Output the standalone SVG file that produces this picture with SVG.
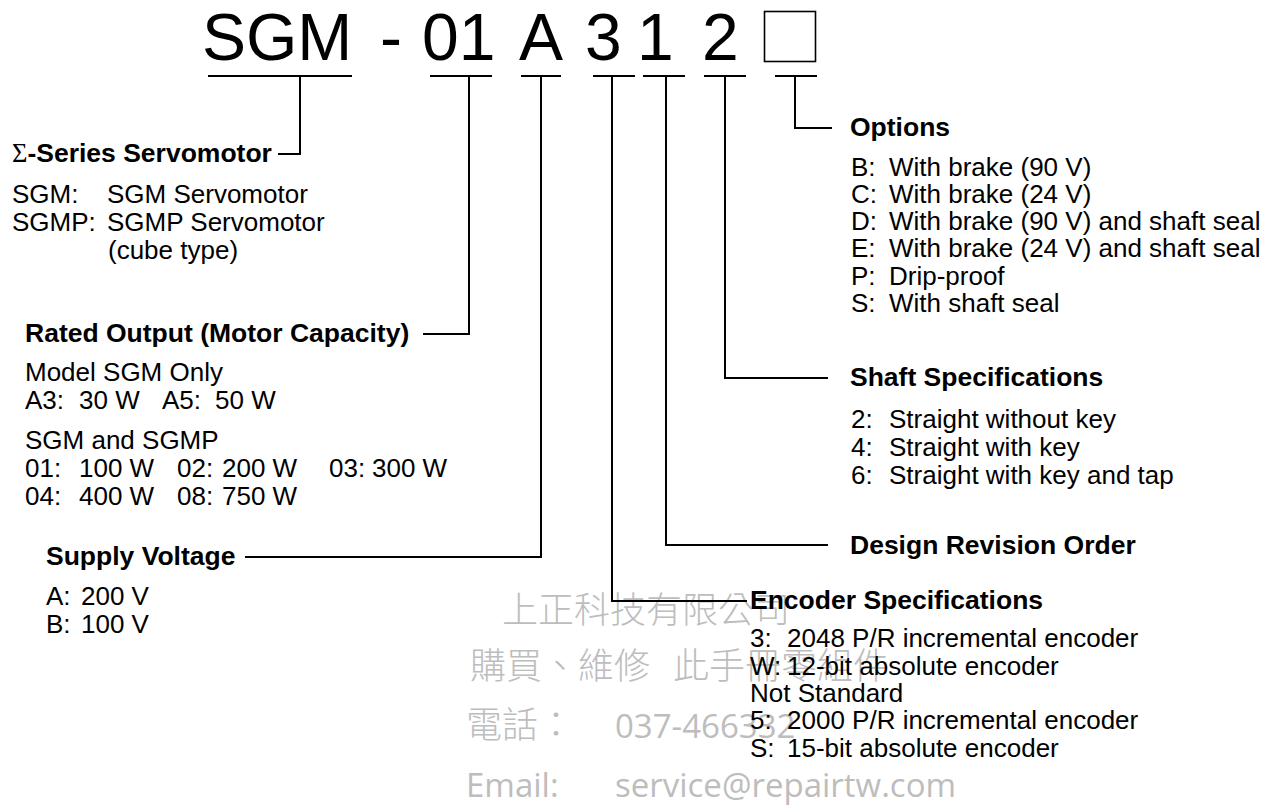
<svg xmlns="http://www.w3.org/2000/svg" width="1280" height="806" viewBox="0 0 1280 806">
<style>
.t{font-family:"Liberation Sans",Arial,Helvetica,sans-serif;font-size:26px;fill:#000}
.b{font-weight:bold;font-size:26.5px}
.title{font-family:"Liberation Sans",Arial,Helvetica,sans-serif;font-size:66px;fill:#000}
.sig{font-family:"Liberation Serif","Times New Roman",serif;font-weight:normal}
.wm{font-family:"Open Sans","Noto Sans CJK TC",sans-serif;font-size:33px;fill:#bdbdbd}
.wmc{font-family:"Noto Sans CJK TC","Noto Sans CJK SC",sans-serif;font-size:36px;font-weight:300;fill:#bdbdbd}
.ln{fill:none;stroke:#000;stroke-width:2}
</style>
<rect width="1280" height="806" fill="#fff"/>
<g id="watermark">
<text class="wmc" x="502" y="623">上正科技有限公司</text>
<text class="wmc" x="470" y="679">購買、維修<tspan x="673">此手冊零組件</tspan></text>
<text class="wmc" x="466" y="738">電話：</text>
<text class="wm" x="615" y="738">037-466332</text>
<text class="wm" x="466" y="797">Email:</text>
<text class="wm" x="615" y="797">service@repairtw.com</text>
</g>
<g id="title">
<text class="title" x="202" y="60">SGM</text>
<text class="title" x="380" y="60">-</text>
<text class="title" x="422" y="60">01</text>
<text class="title" x="519" y="60">A</text>
<text class="title" x="585" y="60">3</text>
<text class="title" x="637" y="60">1</text>
<text class="title" x="702" y="60">2</text>
<rect x="764.5" y="11.5" width="51" height="50" fill="none" stroke="#000" stroke-width="1.6"/>
</g>
<g id="connectors" class="ln">
<path class="ln" d="M208,76H352M300,76V154H278"/>
<path class="ln" d="M430,76H492M469,76V334H423"/>
<path class="ln" d="M521,76H561M541,76V557H245"/>
<path class="ln" d="M593,76H635M612,76V601H747"/>
<path class="ln" d="M643,76H685M666,76V545H828"/>
<path class="ln" d="M704,76H746M725,76V378H828"/>
<path class="ln" d="M775,76H817M795,76V128H832"/>
</g>
<g id="series">
<text class="t b" x="12" y="162"><tspan class="sig">Σ</tspan>-Series Servomotor</text>
<text class="t" x="12" y="203">SGM:<tspan x="107">SGM Servomotor</tspan></text>
<text class="t" x="12" y="231">SGMP:<tspan x="107">SGMP Servomotor</tspan></text>
<text class="t" x="108" y="259">(cube type)</text>
</g>
<g id="rated-output">
<text class="t b" x="25" y="342">Rated Output (Motor Capacity)</text>
<text class="t" x="25" y="381">Model SGM Only</text>
<text class="t" x="25" y="409">A3:<tspan x="79">30 W</tspan><tspan x="162">A5:</tspan><tspan x="215">50 W</tspan></text>
<text class="t" x="25" y="449">SGM and SGMP</text>
<text class="t" x="25" y="477">01:<tspan x="79">100 W</tspan><tspan x="177">02:</tspan><tspan x="222">200 W</tspan><tspan x="329">03:</tspan><tspan x="372">300 W</tspan></text>
<text class="t" x="25" y="505">04:<tspan x="79">400 W</tspan><tspan x="177">08:</tspan><tspan x="222">750 W</tspan></text>
</g>
<g id="supply-voltage">
<text class="t b" x="46" y="565">Supply Voltage</text>
<text class="t" x="46" y="605">A:<tspan x="81">200 V</tspan></text>
<text class="t" x="46" y="633">B:<tspan x="81">100 V</tspan></text>
</g>
<g id="options">
<text class="t b" x="850" y="136">Options</text>
<text class="t" x="851" y="176">B:<tspan x="889">With brake (90 V)</tspan></text>
<text class="t" x="851" y="203">C:<tspan x="889">With brake (24 V)</tspan></text>
<text class="t" x="851" y="230">D:<tspan x="889">With brake (90 V) and shaft seal</tspan></text>
<text class="t" x="851" y="257">E:<tspan x="889">With brake (24 V) and shaft seal</tspan></text>
<text class="t" x="851" y="285">P:<tspan x="889">Drip-proof</tspan></text>
<text class="t" x="851" y="312">S:<tspan x="889">With shaft seal</tspan></text>
</g>
<g id="shaft">
<text class="t b" x="850" y="386">Shaft Specifications</text>
<text class="t" x="851" y="428">2:<tspan x="889">Straight without key</tspan></text>
<text class="t" x="851" y="456">4:<tspan x="889">Straight with key</tspan></text>
<text class="t" x="851" y="484">6:<tspan x="889">Straight with key and tap</tspan></text>
</g>
<g id="design-revision">
<text class="t b" x="850" y="554">Design Revision Order</text>
</g>
<g id="encoder">
<text class="t b" x="750" y="609">Encoder Specifications</text>
<text class="t" x="750" y="647">3:<tspan x="787">2048 P/R incremental encoder</tspan></text>
<text class="t" x="750" y="675">W:<tspan x="787">12-bit absolute encoder</tspan></text>
<text class="t" x="750" y="702">Not Standard</text>
<text class="t" x="750" y="729">5:<tspan x="787">2000 P/R incremental encoder</tspan></text>
<text class="t" x="750" y="757">S:<tspan x="787">15-bit absolute encoder</tspan></text>
</g>
</svg>
